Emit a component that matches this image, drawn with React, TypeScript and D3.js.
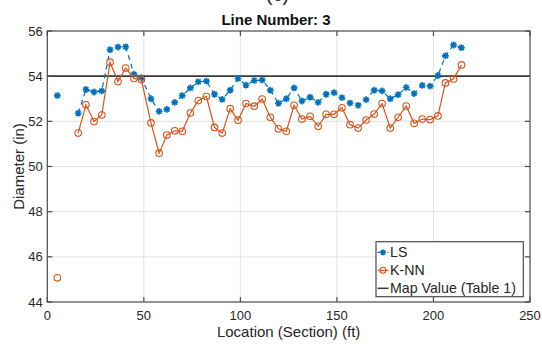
import * as d3 from "d3";

// section locations (ft)
const locations = [
  5.2, 16.0, 20.0, 24.2, 28.2, 32.5, 36.6, 40.6, 44.9, 48.7,
  53.7, 57.9, 61.9, 66.0, 69.9, 74.1, 78.2, 82.4, 86.6, 90.6,
  94.7, 98.8, 102.9, 107.2, 111.3, 115.5, 119.7, 123.8, 127.8, 131.9,
  136.1, 140.3, 144.4, 148.5, 152.6, 156.8, 161.0, 165.1, 169.3, 173.4,
  177.6, 181.7, 185.9, 190.0, 194.2, 198.3, 202.3, 206.2, 210.4, 214.5,
];

const lsDiameter = [
  53.14, 52.36, 53.41, 53.3, 53.35, 55.17, 55.29, 55.3, 54.09, 53.93,
  53.0, 52.44, 52.53, 52.84, 53.14, 53.48, 53.75, 53.78, 53.2, 52.97,
  53.38, 53.9, 53.6, 53.81, 53.83, 53.38, 52.8, 53.0, 53.48, 52.9,
  53.07, 52.84, 53.2, 53.27, 53.05, 52.81, 52.71, 52.96, 53.38, 53.35,
  53.0, 53.18, 53.5, 53.23, 53.59, 53.56, 54.03, 54.9, 55.38, 55.26,
];

const knnDiameter = [
  45.07, 51.48, 52.73, 51.99, 52.28, 54.62, 53.76, 54.36, 53.9, 53.85,
  51.93, 50.59, 51.39, 51.58, 51.56, 52.37, 52.92, 53.1, 51.73, 51.48,
  52.56, 52.05, 52.79, 52.67, 52.99, 52.18, 51.67, 51.56, 52.71, 52.1,
  52.22, 51.78, 52.31, 52.31, 52.6, 51.85, 51.7, 52.06, 52.32, 52.79,
  51.7, 52.18, 52.68, 51.91, 52.1, 52.08, 52.24, 53.7, 53.88, 54.5,
];

const mapValue = 54;
const xTicks = [0, 50, 100, 150, 200, 250];
const yTicks = [44, 46, 48, 50, 52, 54, 56];
const legendLabels = ["LS", "K-NN", "Map Value (Table 1)"];

const W = 542;
const H = 344;
const box = { left: 47.3, right: 530, top: 31, bottom: 302 };
const FONT = "'Liberation Sans', Arial, Helvetica, sans-serif";
const BLUE = "#0072BD";
const ORANGE = "#D95319";
const AXIS = "#4a4a4a";
const TEXT = "#262626";

type Pt = { x: number; y: number };

const asterisk = (r: number) => {
  const k = r * 0.707;
  return `M${-r},0H${r}M0,${-r}V${r}M${-k},${-k}L${k},${k}M${-k},${k}L${k},${-k}`;
};

const App = () => {
  const x = d3.scaleLinear().domain([0, 250]).range([box.left, box.right]);
  const y = d3.scaleLinear().domain([44, 56]).range([box.bottom, box.top]);

  const ls: Pt[] = locations.map((l, i) => ({ x: l, y: lsDiameter[i] }));
  const knn: Pt[] = locations.map((l, i) => ({ x: l, y: knnDiameter[i] }));

  // the first section stands alone (gap before the run starts)
  const line = d3
    .line<Pt>()
    .defined((d, i, arr) => i === 0 || d.x - arr[i - 1].x < 8 ? i !== 0 || arr[1].x - d.x < 8 : true)
    .x((d) => x(d.x))
    .y((d) => y(d.y));

  const tick = 5;

  return (
    <svg
      width={W}
      height={H}
      style={{ position: "absolute", left: 0, top: 0, background: "#fff" }}
      fontFamily={FONT}
    >
      <rect width={W} height={H} fill="#fff" />

      {/* cut-off panel label */}
      <text x={277.5} y={0.5} textAnchor="middle" fontSize={20} fill={TEXT}>
        (c)
      </text>

      <text x={276} y={25} textAnchor="middle" fontSize={15} fontWeight="bold" fill="#111">
        Line Number: 3
      </text>

      {/* grid */}
      <g stroke="#e3e3e3" strokeWidth={1}>
        {xTicks.slice(1, -1).map((t) => (
          <line key={`gx${t}`} x1={x(t)} x2={x(t)} y1={box.top} y2={box.bottom} />
        ))}
        {yTicks.slice(1, -1).map((t) => (
          <line key={`gy${t}`} x1={box.left} x2={box.right} y1={y(t)} y2={y(t)} />
        ))}
      </g>

      {/* map value */}
      <line
        x1={box.left}
        x2={box.right}
        y1={y(mapValue)}
        y2={y(mapValue)}
        stroke="#3a3a3a"
        strokeWidth={1.8}
      />

      {/* LS */}
      <path d={line(ls) ?? ""} fill="none" stroke={BLUE} strokeWidth={1.2} strokeDasharray="5,4" />
      <g stroke={BLUE} strokeWidth={1.6}>
        {ls.map((d, i) => (
          <path key={i} d={asterisk(3.4)} transform={`translate(${x(d.x)},${y(d.y)})`} />
        ))}
      </g>

      {/* K-NN */}
      <path d={line(knn) ?? ""} fill="none" stroke={ORANGE} strokeWidth={1.2} />
      <g stroke={ORANGE} strokeWidth={1.1} fill="none">
        {knn.map((d, i) => (
          <circle key={i} cx={x(d.x)} cy={y(d.y)} r={3.3} />
        ))}
      </g>

      {/* frame and ticks */}
      <rect
        x={box.left}
        y={box.top}
        width={box.right - box.left}
        height={box.bottom - box.top}
        fill="none"
        stroke={AXIS}
        strokeWidth={1.2}
      />
      <g stroke={AXIS} strokeWidth={1.2}>
        {xTicks.map((t) => (
          <g key={`tx${t}`}>
            <line x1={x(t)} x2={x(t)} y1={box.bottom} y2={box.bottom - tick} />
            <line x1={x(t)} x2={x(t)} y1={box.top} y2={box.top + tick} />
          </g>
        ))}
        {yTicks.map((t) => (
          <g key={`ty${t}`}>
            <line x1={box.left} x2={box.left + tick} y1={y(t)} y2={y(t)} />
            <line x1={box.right} x2={box.right - tick} y1={y(t)} y2={y(t)} />
          </g>
        ))}
      </g>

      <g fontSize={13} fill={TEXT}>
        {xTicks.map((t) => (
          <text key={`lx${t}`} x={x(t)} y={320} textAnchor="middle">
            {t}
          </text>
        ))}
        {yTicks.map((t) => (
          <text key={`ly${t}`} x={42.7} y={y(t) + 4.6} textAnchor="end">
            {t}
          </text>
        ))}
      </g>

      <text
        x={(box.left + box.right) / 2}
        y={337}
        textAnchor="middle"
        fontSize={15}
        fill={TEXT}
      >
        Location (Section) (ft)
      </text>
      <text
        transform={`translate(24,${(box.top + box.bottom) / 2}) rotate(-90)`}
        textAnchor="middle"
        fontSize={15}
        fill={TEXT}
      >
        Diameter (in)
      </text>

      {/* legend */}
      <g transform="translate(376,241.7)">
        <rect width={147.3} height={55} fill="#fff" stroke={AXIS} strokeWidth={1.2} />
        {legendLabels.map((label, i) => {
          const cy = 10.6 + i * 18;
          return (
            <g key={label}>
              {i === 0 && (
                <>
                  <line x1={1.5} x2={12.5} y1={cy} y2={cy} stroke={BLUE} strokeWidth={1.2} strokeDasharray="3,2" />
                  <path d={asterisk(3)} transform={`translate(7,${cy})`} stroke={BLUE} strokeWidth={1.5} />
                </>
              )}
              {i === 1 && (
                <>
                  <line x1={1.5} x2={12.5} y1={cy} y2={cy} stroke={ORANGE} strokeWidth={1.2} />
                  <circle cx={7} cy={cy} r={3} fill="none" stroke={ORANGE} strokeWidth={1.1} />
                </>
              )}
              {i === 2 && <line x1={1.5} x2={12.5} y1={cy} y2={cy} stroke="#3a3a3a" strokeWidth={1.5} />}
              <text x={14} y={cy + 5} fontSize={14.2} fill={TEXT}>
                {label}
              </text>
            </g>
          );
        })}
      </g>
    </svg>
  );
};

export default App;
